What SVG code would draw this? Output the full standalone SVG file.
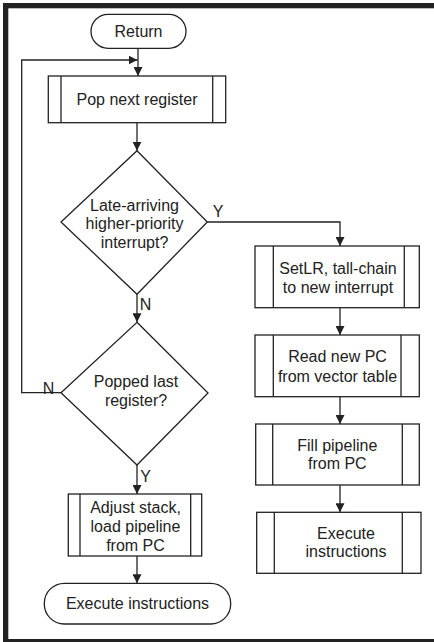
<svg xmlns="http://www.w3.org/2000/svg" width="434" height="642" viewBox="0 0 434 642">
<defs>
<style>
.s{fill:#fff;stroke:#222;stroke-width:1.3}
.l{fill:none;stroke:#222;stroke-width:1.3}
.t{font-family:"Liberation Sans",Arial,sans-serif;font-size:16px;fill:#222;text-anchor:middle;dominant-baseline:central}
.lb{font-family:"Liberation Sans",Arial,sans-serif;font-size:16px;fill:#222;text-anchor:middle;dominant-baseline:central}
</style>
<marker id="ah" viewBox="0 0 10 10" refX="10" refY="5" markerWidth="9" markerHeight="9" markerUnits="userSpaceOnUse" orient="auto">
<path d="M0,0 L10,5 L0,10 Z" fill="#222"/>
</marker>
</defs>
<rect x="0" y="0" width="434" height="642" fill="#fff"/>
<g id="frame" fill="#222">
<rect x="3" y="3" width="431" height="5.3"/>
<rect x="3" y="3" width="5.3" height="639"/>
<rect x="3" y="639" width="431" height="3"/>
</g>
<g id="connectors">
<line class="l" x1="138" y1="48" x2="138" y2="76" marker-end="url(#ah)"/>
<polyline class="l" points="61,392.7 21.7,392.7 21.7,60 137.5,60" marker-end="url(#ah)"/>
<line class="l" x1="137" y1="122.7" x2="137" y2="150.7" marker-end="url(#ah)"/>
<polyline class="l" points="207.3,222 340,222 340,246" marker-end="url(#ah)"/>
<line class="l" x1="340" y1="307.7" x2="340" y2="335" marker-end="url(#ah)"/>
<line class="l" x1="340" y1="396.7" x2="340" y2="424" marker-end="url(#ah)"/>
<line class="l" x1="340" y1="485" x2="340" y2="512.3" marker-end="url(#ah)"/>
<line class="l" x1="137" y1="294.3" x2="137" y2="322.3" marker-end="url(#ah)"/>
<line class="l" x1="137" y1="465" x2="137" y2="494" marker-end="url(#ah)"/>
<line class="l" x1="137" y1="556" x2="137" y2="583.3" marker-end="url(#ah)"/>
<text class="lb" x="218" y="211">Y</text>
<text class="lb" x="145.5" y="304">N</text>
<text class="lb" x="48.5" y="388">N</text>
<text class="lb" x="145.5" y="476">Y</text>
</g>
<g id="return">
<rect class="s" x="91" y="14.3" width="95" height="34" rx="17"/>
<text class="t" x="138.5" y="31.3">Return</text>
</g>
<g id="pop">
<rect class="s" x="48.3" y="76" width="177.4" height="46.7"/>
<line class="l" x1="61" y1="76" x2="61" y2="122.7"/>
<line class="l" x1="212.7" y1="76" x2="212.7" y2="122.7"/>
<text class="t" x="137" y="99.3">Pop next register</text>
</g>
<g id="late">
<polygon class="s" points="137,150.7 207.3,222 137,294.3 61,222"/>
<text class="t" x="134.5" y="205">Late-arriving</text>
<text class="t" x="134.5" y="223.5">higher-priority</text>
<text class="t" x="134.5" y="242">interrupt?</text>
</g>
<g id="popped">
<polygon class="s" points="137,322.3 208,393 137,465 61,392.7"/>
<text class="t" x="136" y="381.7">Popped last</text>
<text class="t" x="136" y="400">register?</text>
</g>
<g id="adjust">
<rect class="s" x="68.3" y="494" width="133.4" height="62"/>
<line class="l" x1="80" y1="494" x2="80" y2="556"/>
<line class="l" x1="190.7" y1="494" x2="190.7" y2="556"/>
<text class="t" x="135.5" y="507.3">Adjust stack,</text>
<text class="t" x="135.5" y="526">load pipeline</text>
<text class="t" x="135.5" y="545">from PC</text>
</g>
<g id="exec-left">
<rect class="s" x="44.3" y="583.3" width="186.4" height="40.7" rx="20"/>
<text class="t" x="137.5" y="603.3">Execute instructions</text>
</g>
<g id="setlr">
<rect class="s" x="255" y="246" width="164.3" height="61.7"/>
<line class="l" x1="273.3" y1="246" x2="273.3" y2="307.7"/>
<line class="l" x1="404.3" y1="246" x2="404.3" y2="307.7"/>
<text class="t" x="338" y="268.3">SetLR, tall-chain</text>
<text class="t" x="338" y="287.3">to new interrupt</text>
</g>
<g id="readpc">
<rect class="s" x="255" y="335" width="164.3" height="61.7"/>
<line class="l" x1="273.3" y1="335" x2="273.3" y2="396.7"/>
<line class="l" x1="401" y1="335" x2="401" y2="396.7"/>
<text class="t" x="337.5" y="356.7">Read new PC</text>
<text class="t" x="337.5" y="376.7">from vector table</text>
</g>
<g id="fill">
<rect class="s" x="255.7" y="424" width="163.6" height="61"/>
<line class="l" x1="272.7" y1="424" x2="272.7" y2="485"/>
<line class="l" x1="402.3" y1="424" x2="402.3" y2="485"/>
<text class="t" x="337.3" y="445">Fill pipeline</text>
<text class="t" x="337.3" y="463.5">from PC</text>
</g>
<g id="exec-right">
<rect class="s" x="256.7" y="512.3" width="164.3" height="61"/>
<line class="l" x1="274.3" y1="512.3" x2="274.3" y2="573.3"/>
<line class="l" x1="402.3" y1="512.3" x2="402.3" y2="573.3"/>
<text class="t" x="346" y="533.3">Execute</text>
<text class="t" x="346" y="551.7">instructions</text>
</g>
</svg>
